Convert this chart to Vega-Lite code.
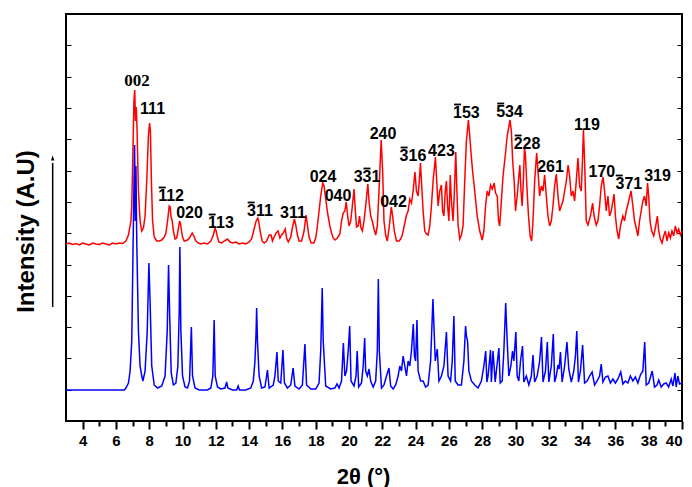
{
"$schema": "https://vega.github.io/schema/vega-lite/v6.json",
"width": 616, "height": 407,
"autosize": {"type": "none"},
"padding": {"left": 66, "top": 14, "right": 10, "bottom": 66},
"background": "white",
"config": {"view": {"stroke": "black", "strokeWidth": 2}},
"datasets": {
"red": [
{"t":3.0,"v":177},{"t":3.2,"v":178},{"t":3.4,"v":176.5},{"t":3.6,"v":177.5},{"t":3.8,"v":176},{"t":4.0,"v":178},{"t":4.2,"v":177},{"t":4.4,"v":176},{"t":4.6,"v":178},{"t":4.8,"v":177},{"t":5.0,"v":176.5},{"t":5.2,"v":178},{"t":5.4,"v":177},{"t":5.6,"v":176},{"t":5.8,"v":178},{"t":6.0,"v":177},{"t":6.2,"v":178},{"t":6.4,"v":177.5},{"t":6.6,"v":180},{"t":6.75,"v":186},{"t":6.9,"v":200},
{"t":6.95,"v":215},{"t":7.02,"v":270},{"t":7.08,"v":320},{"t":7.13,"v":331},{"t":7.17,"v":300},{"t":7.22,"v":314},{"t":7.27,"v":290},{"t":7.35,"v":230},{"t":7.45,"v":200},{"t":7.55,"v":190},{"t":7.65,"v":193},{"t":7.75,"v":205},{"t":7.85,"v":240},{"t":7.95,"v":285},{"t":8.02,"v":298},{"t":8.07,"v":290},{"t":8.13,"v":240},{"t":8.2,"v":200},{"t":8.3,"v":184},{"t":8.45,"v":180},{"t":8.6,"v":180},{"t":8.75,"v":181},{"t":8.9,"v":184},{"t":9.0,"v":188},{"t":9.1,"v":200},{"t":9.2,"v":215},{"t":9.26,"v":214},{"t":9.3,"v":205},{"t":9.38,"v":200},{"t":9.45,"v":190},{"t":9.55,"v":182},{"t":9.65,"v":183},{"t":9.75,"v":192},{"t":9.82,"v":200},{"t":9.88,"v":197},{"t":9.94,"v":190},{"t":10.0,"v":184},{"t":10.1,"v":180},{"t":10.3,"v":181},{"t":10.45,"v":184},{"t":10.58,"v":188},{"t":10.68,"v":185},{"t":10.8,"v":180},{"t":10.95,"v":178},{"t":11.1,"v":177},{"t":11.3,"v":178},{"t":11.5,"v":177},{"t":11.7,"v":180},{"t":11.85,"v":186},{"t":11.95,"v":193},{"t":12.02,"v":190},{"t":12.08,"v":185},{"t":12.18,"v":179},{"t":12.35,"v":178},{"t":12.5,"v":180},{"t":12.7,"v":182},{"t":12.85,"v":179},{"t":13.0,"v":178},{"t":13.2,"v":179},{"t":13.4,"v":177},{"t":13.6,"v":178},{"t":13.8,"v":177},{"t":14.0,"v":179},{"t":14.15,"v":182},{"t":14.3,"v":192},{"t":14.42,"v":200},{"t":14.52,"v":203},{"t":14.58,"v":199},{"t":14.66,"v":190},{"t":14.78,"v":180},{"t":14.9,"v":178},{"t":15.05,"v":180},{"t":15.2,"v":186},{"t":15.32,"v":186},{"t":15.4,"v":180},{"t":15.5,"v":184},{"t":15.62,"v":188},{"t":15.74,"v":190},{"t":15.85,"v":183},{"t":15.95,"v":186},{"t":16.05,"v":188},{"t":16.17,"v":192},{"t":16.25,"v":183},{"t":16.35,"v":179},{"t":16.5,"v":184},{"t":16.62,"v":195},{"t":16.72,"v":202},{"t":16.8,"v":196},{"t":16.9,"v":186},{"t":17.0,"v":180},{"t":17.15,"v":180},{"t":17.3,"v":190},{"t":17.42,"v":206},{"t":17.5,"v":196},{"t":17.6,"v":184},{"t":17.72,"v":178},{"t":17.88,"v":178},{"t":18.0,"v":183},{"t":18.1,"v":195},{"t":18.2,"v":210},{"t":18.3,"v":225},{"t":18.42,"v":238},{"t":18.5,"v":235},{"t":18.6,"v":222},{"t":18.72,"v":207},{"t":18.85,"v":195},{"t":18.95,"v":188},{"t":19.05,"v":183},{"t":19.15,"v":181},{"t":19.3,"v":183},{"t":19.45,"v":187},{"t":19.55,"v":200},{"t":19.65,"v":208},{"t":19.75,"v":210},{"t":19.83,"v":219},{"t":19.92,"v":205},{"t":20.0,"v":195},{"t":20.1,"v":200},{"t":20.2,"v":215},{"t":20.3,"v":232},{"t":20.38,"v":210},{"t":20.45,"v":194},{"t":20.55,"v":195},{"t":20.63,"v":205},{"t":20.72,"v":193},{"t":20.8,"v":190},{"t":20.9,"v":200},{"t":21.0,"v":215},{"t":21.13,"v":237},{"t":21.2,"v":220},{"t":21.3,"v":205},{"t":21.4,"v":200},{"t":21.5,"v":192},{"t":21.6,"v":186},{"t":21.7,"v":195},{"t":21.8,"v":230},{"t":21.93,"v":281},{"t":22.02,"v":250},{"t":22.1,"v":200},{"t":22.2,"v":186},{"t":22.3,"v":180},{"t":22.42,"v":195},{"t":22.54,"v":214},{"t":22.62,"v":205},{"t":22.72,"v":190},{"t":22.85,"v":180},{"t":23.0,"v":180},{"t":23.1,"v":182},{"t":23.2,"v":186},{"t":23.35,"v":198},{"t":23.45,"v":206},{"t":23.55,"v":210},{"t":23.65,"v":222},{"t":23.75,"v":218},{"t":23.85,"v":230},{"t":23.96,"v":249},{"t":24.05,"v":230},{"t":24.15,"v":225},{"t":24.22,"v":240},{"t":24.29,"v":258},{"t":24.35,"v":240},{"t":24.45,"v":210},{"t":24.55,"v":190},{"t":24.65,"v":187},{"t":24.75,"v":186},{"t":24.85,"v":195},{"t":24.95,"v":215},{"t":25.05,"v":240},{"t":25.19,"v":264},{"t":25.25,"v":245},{"t":25.35,"v":215},{"t":25.45,"v":230},{"t":25.55,"v":236},{"t":25.62,"v":210},{"t":25.7,"v":205},{"t":25.78,"v":230},{"t":25.85,"v":240},{"t":25.92,"v":215},{"t":26.0,"v":200},{"t":26.08,"v":246},{"t":26.15,"v":220},{"t":26.25,"v":200},{"t":26.33,"v":230},{"t":26.41,"v":269},{"t":26.48,"v":230},{"t":26.55,"v":196},{"t":26.65,"v":182},{"t":26.75,"v":186},{"t":26.85,"v":195},{"t":26.95,"v":240},{"t":27.05,"v":280},{"t":27.17,"v":301},{"t":27.25,"v":285},{"t":27.32,"v":270},{"t":27.42,"v":250},{"t":27.55,"v":230},{"t":27.7,"v":205},{"t":27.85,"v":190},{"t":28.0,"v":181},{"t":28.1,"v":190},{"t":28.2,"v":215},{"t":28.3,"v":230},{"t":28.4,"v":225},{"t":28.5,"v":236},{"t":28.6,"v":232},{"t":28.72,"v":238},{"t":28.8,"v":228},{"t":28.9,"v":225},{"t":28.98,"v":200},{"t":29.05,"v":195},{"t":29.15,"v":220},{"t":29.25,"v":245},{"t":29.4,"v":268},{"t":29.5,"v":285},{"t":29.67,"v":301},{"t":29.75,"v":290},{"t":29.83,"v":260},{"t":29.92,"v":240},{"t":30.0,"v":210},{"t":30.1,"v":225},{"t":30.2,"v":245},{"t":30.26,"v":256},{"t":30.33,"v":230},{"t":30.4,"v":215},{"t":30.47,"v":240},{"t":30.54,"v":274},{"t":30.6,"v":265},{"t":30.68,"v":235},{"t":30.78,"v":205},{"t":30.88,"v":185},{"t":30.97,"v":180},{"t":31.05,"v":200},{"t":31.15,"v":240},{"t":31.27,"v":268},{"t":31.35,"v":250},{"t":31.45,"v":225},{"t":31.55,"v":235},{"t":31.65,"v":230},{"t":31.75,"v":246},{"t":31.85,"v":225},{"t":31.95,"v":205},{"t":32.05,"v":195},{"t":32.15,"v":200},{"t":32.25,"v":215},{"t":32.35,"v":235},{"t":32.45,"v":247},{"t":32.55,"v":225},{"t":32.65,"v":210},{"t":32.75,"v":215},{"t":32.85,"v":220},{"t":32.95,"v":230},{"t":33.05,"v":240},{"t":33.16,"v":256},{"t":33.25,"v":245},{"t":33.35,"v":225},{"t":33.45,"v":230},{"t":33.55,"v":220},{"t":33.65,"v":240},{"t":33.75,"v":263},{"t":33.85,"v":235},{"t":33.95,"v":230},{"t":34.02,"v":260},{"t":34.08,"v":291},{"t":34.15,"v":260},{"t":34.25,"v":200},{"t":34.35,"v":196},{"t":34.5,"v":205},{"t":34.63,"v":218},{"t":34.72,"v":205},{"t":34.85,"v":196},{"t":34.95,"v":200},{"t":35.05,"v":215},{"t":35.15,"v":235},{"t":35.26,"v":244},{"t":35.35,"v":230},{"t":35.45,"v":210},{"t":35.55,"v":225},{"t":35.65,"v":205},{"t":35.75,"v":210},{"t":35.85,"v":220},{"t":35.92,"v":227},{"t":36.0,"v":205},{"t":36.1,"v":190},{"t":36.2,"v":182},{"t":36.3,"v":195},{"t":36.45,"v":205},{"t":36.55,"v":200},{"t":36.65,"v":210},{"t":36.8,"v":220},{"t":36.94,"v":230},{"t":37.05,"v":215},{"t":37.15,"v":200},{"t":37.25,"v":193},{"t":37.35,"v":185},{"t":37.45,"v":200},{"t":37.55,"v":210},{"t":37.65,"v":220},{"t":37.75,"v":225},{"t":37.85,"v":215},{"t":37.93,"v":238},{"t":38.0,"v":225},{"t":38.08,"v":200},{"t":38.18,"v":190},{"t":38.3,"v":185},{"t":38.42,"v":195},{"t":38.52,"v":205},{"t":38.6,"v":190},{"t":38.7,"v":182},{"t":38.8,"v":178},{"t":38.9,"v":185},{"t":39.0,"v":190},{"t":39.1,"v":180},{"t":39.2,"v":188},{"t":39.3,"v":183},{"t":39.4,"v":190},{"t":39.5,"v":185},{"t":39.6,"v":195},{"t":39.7,"v":188},{"t":39.8,"v":192},{"t":39.9,"v":186},{"t":40.0,"v":190}
],
"blue": [
{"t":3.0,"v":31},{"t":6.5,"v":31},{"t":6.6,"v":33},{"t":6.75,"v":38},{"t":6.85,"v":50},{"t":6.95,"v":80},{"t":7.05,"v":200},{"t":7.12,"v":276},{"t":7.16,"v":200},{"t":7.2,"v":255},{"t":7.25,"v":180},{"t":7.35,"v":90},{"t":7.45,"v":55},{"t":7.55,"v":45},{"t":7.62,"v":40},{"t":7.75,"v":50},{"t":7.88,"v":90},{"t":7.98,"v":158},{"t":8.05,"v":120},{"t":8.15,"v":55},{"t":8.3,"v":36},{"t":8.5,"v":33},{"t":8.75,"v":35},{"t":8.95,"v":45},{"t":9.08,"v":90},{"t":9.16,"v":156},{"t":9.22,"v":110},{"t":9.32,"v":48},{"t":9.45,"v":36},{"t":9.6,"v":38},{"t":9.72,"v":55},{"t":9.8,"v":110},{"t":9.84,"v":174},{"t":9.9,"v":90},{"t":10.0,"v":45},{"t":10.15,"v":34},{"t":10.3,"v":33},{"t":10.42,"v":40},{"t":10.53,"v":94},{"t":10.6,"v":45},{"t":10.75,"v":33},{"t":11.0,"v":31},{"t":11.5,"v":31},{"t":11.7,"v":33},{"t":11.82,"v":45},{"t":11.9,"v":101},{"t":11.96,"v":45},{"t":12.1,"v":34},{"t":12.3,"v":32},{"t":12.55,"v":33},{"t":12.65,"v":39},{"t":12.72,"v":33},{"t":13.0,"v":31},{"t":13.25,"v":31},{"t":13.34,"v":35},{"t":13.42,"v":31},{"t":13.8,"v":31},{"t":14.1,"v":33},{"t":14.25,"v":40},{"t":14.35,"v":60},{"t":14.42,"v":90},{"t":14.45,"v":113},{"t":14.5,"v":80},{"t":14.6,"v":45},{"t":14.75,"v":33},{"t":14.95,"v":34},{"t":15.1,"v":51},{"t":15.2,"v":33},{"t":15.45,"v":36},{"t":15.55,"v":45},{"t":15.67,"v":69},{"t":15.75,"v":40},{"t":15.9,"v":38},{"t":16.03,"v":71},{"t":16.12,"v":38},{"t":16.3,"v":33},{"t":16.5,"v":36},{"t":16.64,"v":53},{"t":16.75,"v":35},{"t":17.0,"v":32},{"t":17.2,"v":36},{"t":17.35,"v":77},{"t":17.45,"v":36},{"t":17.7,"v":32},{"t":18.0,"v":32},{"t":18.2,"v":38},{"t":18.3,"v":70},{"t":18.39,"v":133},{"t":18.45,"v":80},{"t":18.6,"v":35},{"t":18.9,"v":32},{"t":19.15,"v":33},{"t":19.28,"v":37},{"t":19.4,"v":33},{"t":19.55,"v":40},{"t":19.66,"v":78},{"t":19.75,"v":45},{"t":19.85,"v":50},{"t":19.95,"v":70},{"t":20.04,"v":95},{"t":20.12,"v":40},{"t":20.3,"v":35},{"t":20.42,"v":45},{"t":20.49,"v":70},{"t":20.58,"v":34},{"t":20.75,"v":38},{"t":20.85,"v":55},{"t":20.94,"v":83},{"t":21.0,"v":50},{"t":21.1,"v":45},{"t":21.2,"v":52},{"t":21.3,"v":40},{"t":21.45,"v":34},{"t":21.6,"v":40},{"t":21.7,"v":70},{"t":21.76,"v":142},{"t":21.82,"v":70},{"t":21.95,"v":33},{"t":22.1,"v":36},{"t":22.25,"v":45},{"t":22.4,"v":53},{"t":22.5,"v":35},{"t":22.65,"v":32},{"t":22.8,"v":36},{"t":22.95,"v":45},{"t":23.05,"v":55},{"t":23.15,"v":50},{"t":23.25,"v":65},{"t":23.35,"v":55},{"t":23.45,"v":45},{"t":23.55,"v":60},{"t":23.65,"v":55},{"t":23.75,"v":70},{"t":23.86,"v":97},{"t":23.93,"v":65},{"t":24.0,"v":60},{"t":24.08,"v":101},{"t":24.15,"v":50},{"t":24.3,"v":40},{"t":24.45,"v":40},{"t":24.6,"v":34},{"t":24.75,"v":36},{"t":24.9,"v":60},{"t":25.04,"v":122},{"t":25.1,"v":95},{"t":25.18,"v":60},{"t":25.3,"v":72},{"t":25.4,"v":40},{"t":25.55,"v":45},{"t":25.7,"v":55},{"t":25.85,"v":89},{"t":25.95,"v":45},{"t":26.1,"v":40},{"t":26.2,"v":60},{"t":26.3,"v":105},{"t":26.38,"v":40},{"t":26.55,"v":36},{"t":26.75,"v":36},{"t":26.9,"v":60},{"t":27.0,"v":95},{"t":27.05,"v":85},{"t":27.12,"v":80},{"t":27.2,"v":50},{"t":27.35,"v":40},{"t":27.55,"v":36},{"t":27.75,"v":33},{"t":27.95,"v":40},{"t":28.1,"v":55},{"t":28.21,"v":70},{"t":28.28,"v":39},{"t":28.35,"v":45},{"t":28.5,"v":71},{"t":28.55,"v":39},{"t":28.65,"v":70},{"t":28.78,"v":39},{"t":29.0,"v":73},{"t":29.08,"v":38},{"t":29.2,"v":40},{"t":29.3,"v":70},{"t":29.41,"v":118},{"t":29.5,"v":80},{"t":29.6,"v":45},{"t":29.72,"v":55},{"t":29.82,"v":70},{"t":29.9,"v":60},{"t":30.02,"v":89},{"t":30.1,"v":45},{"t":30.2,"v":40},{"t":30.3,"v":60},{"t":30.42,"v":75},{"t":30.5,"v":39},{"t":30.65,"v":45},{"t":30.8,"v":36},{"t":30.95,"v":45},{"t":31.05,"v":66},{"t":31.15,"v":39},{"t":31.3,"v":45},{"t":31.45,"v":60},{"t":31.56,"v":84},{"t":31.65,"v":39},{"t":31.8,"v":50},{"t":31.91,"v":79},{"t":32.0,"v":39},{"t":32.15,"v":55},{"t":32.27,"v":87},{"t":32.35,"v":39},{"t":32.45,"v":45},{"t":32.55,"v":56},{"t":32.62,"v":52},{"t":32.7,"v":69},{"t":32.8,"v":39},{"t":32.95,"v":55},{"t":33.09,"v":79},{"t":33.2,"v":52},{"t":33.35,"v":39},{"t":33.5,"v":50},{"t":33.6,"v":65},{"t":33.68,"v":90},{"t":33.78,"v":39},{"t":33.9,"v":50},{"t":34.03,"v":76},{"t":34.15,"v":38},{"t":34.3,"v":40},{"t":34.45,"v":45},{"t":34.6,"v":49},{"t":34.75,"v":36},{"t":34.9,"v":40},{"t":35.05,"v":45},{"t":35.15,"v":57},{"t":35.25,"v":39},{"t":35.4,"v":44},{"t":35.55,"v":45},{"t":35.7,"v":38},{"t":35.85,"v":42},{"t":36.0,"v":38},{"t":36.15,"v":42},{"t":36.32,"v":49},{"t":36.45,"v":37},{"t":36.6,"v":40},{"t":36.75,"v":38},{"t":36.9,"v":45},{"t":37.05,"v":40},{"t":37.2,"v":44},{"t":37.35,"v":38},{"t":37.5,"v":46},{"t":37.65,"v":50},{"t":37.76,"v":79},{"t":37.85,"v":36},{"t":38.0,"v":38},{"t":38.21,"v":50},{"t":38.35,"v":34},{"t":38.5,"v":36},{"t":38.6,"v":41},{"t":38.75,"v":34},{"t":38.9,"v":37},{"t":39.05,"v":38},{"t":39.2,"v":34},{"t":39.35,"v":42},{"t":39.45,"v":35},{"t":39.58,"v":48},{"t":39.65,"v":34},{"t":39.75,"v":45},{"t":39.85,"v":37},{"t":40.0,"v":38}
],
"labels": [
{"t":8.20,"v":312,"label":"111"},
{"t":9.31,"v":225,"label":"112"},
{"t":10.42,"v":208,"label":"020"},
{"t":12.31,"v":198,"label":"113"},
{"t":14.65,"v":210,"label":"311"},
{"t":16.63,"v":208,"label":"311"},
{"t":18.44,"v":244,"label":"024"},
{"t":19.34,"v":225,"label":"040"},
{"t":21.08,"v":244,"label":"331"},
{"t":22.04,"v":287,"label":"240"},
{"t":22.67,"v":219,"label":"042"},
{"t":23.84,"v":265,"label":"316"},
{"t":25.55,"v":270,"label":"423"},
{"t":27.05,"v":308,"label":"153"},
{"t":29.64,"v":309,"label":"534"},
{"t":30.69,"v":277,"label":"228"},
{"t":32.10,"v":254,"label":"261"},
{"t":34.29,"v":296,"label":"119"},
{"t":35.19,"v":249,"label":"170"},
{"t":36.81,"v":237,"label":"371"},
{"t":38.53,"v":245,"label":"319"}
],
"bars": [
{"t1":8.57,"t2":8.99,"v":233.5},
{"t1":11.57,"t2":11.99,"v":206.5},
{"t1":13.91,"t2":14.33,"v":218.5},
{"t1":20.87,"t2":21.29,"v":252.5},
{"t1":23.10,"t2":23.52,"v":273.5},
{"t1":26.31,"t2":26.73,"v":316.5},
{"t1":28.90,"t2":29.32,"v":317.5},
{"t1":29.95,"t2":30.37,"v":285.5},
{"t1":36.02,"t2":36.44,"v":245.5}
],
"serifLabel": [{"t":7.26,"v":340,"label":"002"}],
"arrow": [{"t":2.2,"v":114,"v2":258}],
"arrowHead": [{"t":2.2,"v":263}]
},
"encoding": {
"x": {"field":"t","type":"quantitative","scale":{"domain":[3,40],"nice":false,"zero":false}},
"y": {"field":"v","type":"quantitative","scale":{"domain":[0,407],"nice":false,"zero":false}}
},
"layer": [
{"data":{"name":"red"},"mark":{"type":"line","color":"#FF0000","strokeWidth":1.5},
"encoding":{
"x":{"field":"t","type":"quantitative","axis":{"orient":"bottom","values":[4,6,8,10,12,14,16,18,20,22,24,26,28,30,32,34,36,38,40],"domain":false,"grid":false,"tickSize":8,"tickWidth":2,"tickColor":"black","labelFont":"Liberation Sans","labelFontWeight":"bold","labelFontSize":15,"labelColor":"black","labelPadding":4,"title":"2θ (°)","titleFont":"Liberation Sans","titleFontWeight":"bold","titleFontSize":22,"titleColor":"black","titlePadding":18,"titleX":297}},
"y":{"field":"v","type":"quantitative","axis":{"orient":"left","offset":-5,"values":[31.3,62.6,93.9,125.2,156.5,187.8,219.1,250.4,281.7,313,344.3,375.6],"domain":false,"grid":false,"labels":false,"tickSize":5,"tickWidth":1,"tickColor":"black","title":"Intensity (A.U)","titleFont":"Liberation Sans","titleFontWeight":"bold","titleFontSize":24,"titleColor":"black","titlePadding":27,"titleY":217}}
}},
{"data":{"name":"blue"},"mark":{"type":"line","color":"#0000FF","strokeWidth":1.5},
"encoding":{
"x":{"field":"t","type":"quantitative","axis":{"orient":"bottom","values":[5,7,9,11,13,15,17,19,21,23,25,27,29,31,33,35,37,39],"domain":false,"grid":false,"labels":false,"tickSize":5,"tickWidth":2,"tickColor":"black","title":null}},
"y":{"field":"v","type":"quantitative","axis":{"orient":"right","values":[31.3,62.6,93.9,125.2,156.5,187.8,219.1,250.4,281.7,313,344.3,375.6],"domain":false,"grid":false,"labels":false,"tickSize":-5,"tickWidth":1,"tickColor":"black","title":null}}
}},
{"data":{"name":"labels"},"mark":{"type":"text","font":"Liberation Sans","fontWeight":"bold","fontSize":16,"color":"black","align":"center","baseline":"middle"},
"encoding":{"text":{"field":"label"},"x":{"field":"t","type":"quantitative","axis":null},"y":{"field":"v","type":"quantitative","axis":null}}},
{"data":{"name":"bars"},"mark":{"type":"rule","color":"black","strokeWidth":1.8},
"encoding":{"x":{"field":"t1","type":"quantitative","axis":null},"x2":{"field":"t2"},"y":{"field":"v","type":"quantitative","axis":null}}},
{"data":{"name":"serifLabel"},"mark":{"type":"text","font":"Liberation Serif","fontWeight":"bold","fontSize":17,"color":"black","align":"center","baseline":"middle"},
"encoding":{"text":{"field":"label"},"x":{"field":"t","type":"quantitative","axis":null},"y":{"field":"v","type":"quantitative","axis":null}}},
{"data":{"name":"arrow"},"mark":{"type":"rule","color":"black","strokeWidth":1.5,"clip":false},
"encoding":{"x":{"field":"t","type":"quantitative","axis":null},"y":{"field":"v","type":"quantitative","axis":null},"y2":{"field":"v2"}}},
{"data":{"name":"arrowHead"},"mark":{"type":"point","shape":"M-0.35,0.5L0,-0.5L0.35,0.5Z","filled":true,"color":"black","size":100,"opacity":1,"clip":false},
"encoding":{"x":{"field":"t","type":"quantitative","axis":null},"y":{"field":"v","type":"quantitative","axis":null}}}
],
"resolve": {"axis": {"x": "independent", "y": "independent"}}
}
